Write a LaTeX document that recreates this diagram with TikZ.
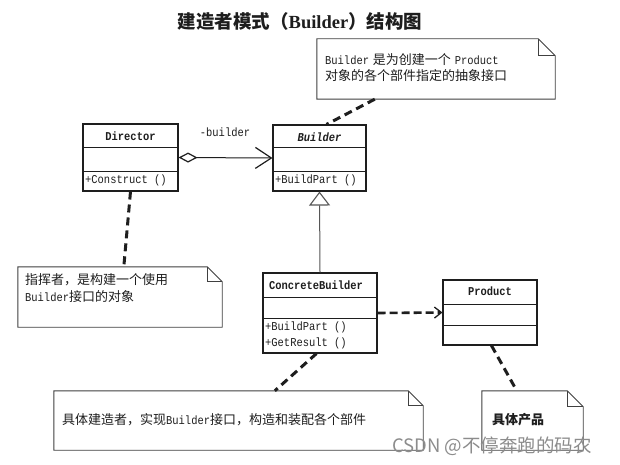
\documentclass[tikz,border=0pt]{standalone}
\usepackage{fontspec}
\setmonofont{Liberation Mono}[FakeStretch=0.87]
\newfontfamily\cjk{Noto Sans CJK SC}
\newfontfamily\titleser{Liberation Serif}
\usetikzlibrary{arrows.meta,calc}

\definecolor{ink}{HTML}{1E1E1E}
\definecolor{wm}{HTML}{8C8C8C}

\tikzset{
  classbox/.style={draw=ink, line width=1.1pt, inner sep=0pt, fill=none},
  sepline/.style={draw=ink, line width=1pt},
  uml/.style={font=\ttfamily\fontsize{12}{14}\selectfont, text=ink, inner sep=0pt},
  umltitle/.style={uml, font=\ttfamily\bfseries\fontsize{12}{14}\selectfont},
  notetext/.style={text=ink, inner sep=0pt, anchor=west, font=\fontsize{12}{14}\selectfont},
  noteline/.style={draw=ink!85, line width=0.9pt},
  notelink/.style={draw=ink, line width=3pt, dash pattern=on 8pt off 5pt},
}

% folded-corner note outline around a named empty node: #1 name, #2 fold size
\newcommand\foldnote[2]{%
  \draw[noteline, line join=miter]
    (#1.north west) -- ([xshift=-#2pt]#1.north east)
    -- ([yshift=-#2pt]#1.north east) -- (#1.south east)
    -- (#1.south west) -- cycle;
  \draw[noteline]
    ([xshift=-#2pt]#1.north east) -- ([xshift=-#2pt,yshift=-#2pt]#1.north east)
    -- ([yshift=-#2pt]#1.north east);
}

\begin{document}
\begin{tikzpicture}[x=1pt,y=-1pt]
\useasboundingbox (0,0) rectangle (620,465);
\fill[white] (0,0) rectangle (620,465);

% heading
\node[text=ink, inner sep=0pt] (head) at (300,21)
  {{\cjk\bfseries\fontsize{18.5}{20}\selectfont 建造者模式（}{\titleser\bfseries\fontsize{18.5}{20}\selectfont Builder}{\cjk\bfseries\fontsize{18.5}{20}\selectfont ）结构图}};

% ---------- classes ----------
\node[classbox, minimum width=95pt, minimum height=67pt] (dir) at (130.5,157.5) {};
\draw[sepline] (dir.west |- 0,148) -- (dir.east |- 0,148);
\draw[sepline] (dir.west |- 0,171) -- (dir.east |- 0,171);
\node[umltitle] (dirname) at (130.5,136) {Director};
\node[uml, anchor=west] (dirop) at (85,180) {+Construct ()};

\node[classbox, minimum width=93pt, minimum height=66pt] (bld) at (319.5,158) {};
\draw[sepline] (bld.west |- 0,148) -- (bld.east |- 0,148);
\draw[sepline] (bld.west |- 0,171) -- (bld.east |- 0,171);
\node[umltitle, font=\ttfamily\bfseries\itshape\fontsize{12}{14}\selectfont] (bldname) at (319.5,137) {Builder};
\node[uml, anchor=west] (bldop) at (275,180) {+BuildPart ()};

\node[classbox, minimum width=114pt, minimum height=80pt] (cb) at (320,313) {};
\draw[sepline] (cb.west |- 0,297) -- (cb.east |- 0,297);
\draw[sepline] (cb.west |- 0,318) -- (cb.east |- 0,318);
\node[umltitle] (cbname) at (316,285) {ConcreteBuilder};
\node[uml, anchor=west] (cbop1) at (265,327) {+BuildPart ()};
\node[uml, anchor=west] (cbop2) at (265,343) {+GetResult ()};

\node[classbox, minimum width=94pt, minimum height=65pt] (prod) at (490,312.5) {};
\draw[sepline] (prod.west |- 0,304) -- (prod.east |- 0,304);
\draw[sepline] (prod.west |- 0,325) -- (prod.east |- 0,325);
\node[umltitle] (prodname) at (490,291) {Product};

% ---------- relations ----------
\draw[draw=ink, line width=1pt,
      {Diamond[open, length=19pt, width=10pt, line width=1.2pt]}-{Straight Barb[length=16pt, width=21pt, line width=1.2pt]}]
  (dir.east) -- (bld.west);
\node[uml] (role) at (225,132) {-builder};

\draw[draw=ink!75, line width=1pt, -{Triangle[open, length=14pt, width=21pt, line width=1.1pt]}]
  (cb.north) -- (bld.south);

\draw[draw=ink, line width=2.6pt, dash pattern=on 8pt off 4pt,
      -{Straight Barb[length=7pt, width=11pt, line width=1.3pt]}]
  (cb.east) -- (prod.west);

% ---------- notes ----------
\node[minimum width=238pt, minimum height=60pt, inner sep=0pt] (n1) at (436,69) {};
\foldnote{n1}{17}
\node[notetext] (n1a) at (325,60) {{\ttfamily Builder} {\cjk\fontsize{13}{15}\selectfont 是为创建一个} {\ttfamily Product}};
\node[notetext] (n1b) at (325,76) {\cjk\fontsize{13}{15}\selectfont 对象的各个部件指定的抽象接口};

\node[minimum width=204pt, minimum height=60pt, inner sep=0pt] (n2) at (120,297) {};
\foldnote{n2}{15}
\node[notetext] (n2a) at (25,280) {\cjk\fontsize{13}{15}\selectfont 指挥者，是构建一个使用};
\node[notetext] (n2b) at (25,297) {{\ttfamily Builder}{\cjk\fontsize{13}{15}\selectfont 接口的对象}};

\node[minimum width=369pt, minimum height=59pt, inner sep=0pt] (n3) at (238.5,420.5) {};
\foldnote{n3}{15}
\node[notetext] (n3a) at (62,420) {{\cjk\fontsize{13}{15}\selectfont 具体建造者，实现}{\ttfamily Builder}{\cjk\fontsize{13}{15}\selectfont 接口，构造和装配各个部件}};

\node[minimum width=101pt, minimum height=59pt, inner sep=0pt] (n4) at (532.5,420.5) {};
\foldnote{n4}{16}
\node[notetext] (n4a) at (492,420) {\cjk\bfseries\fontsize{13}{15}\selectfont 具体产品};

% note anchors
\draw[notelink] ([xshift=58pt]n1.south west) -- ([xshift=54pt]bld.north west);
\draw[notelink] (dir.south) -- ([xshift=106pt]n2.north west);
\draw[notelink] ([xshift=54pt]cb.south west) -- ([xshift=221pt]n3.north west);
\draw[notelink] ([xshift=49pt]prod.south west) -- ([xshift=35pt]n4.north west);

% watermark
\node[anchor=west, inner sep=0pt, text=wm] (mark) at (392,446)
  {\cjk\fontsize{18.5}{20}\selectfont CSDN @不停奔跑的码农};
\end{tikzpicture}
\end{document}
